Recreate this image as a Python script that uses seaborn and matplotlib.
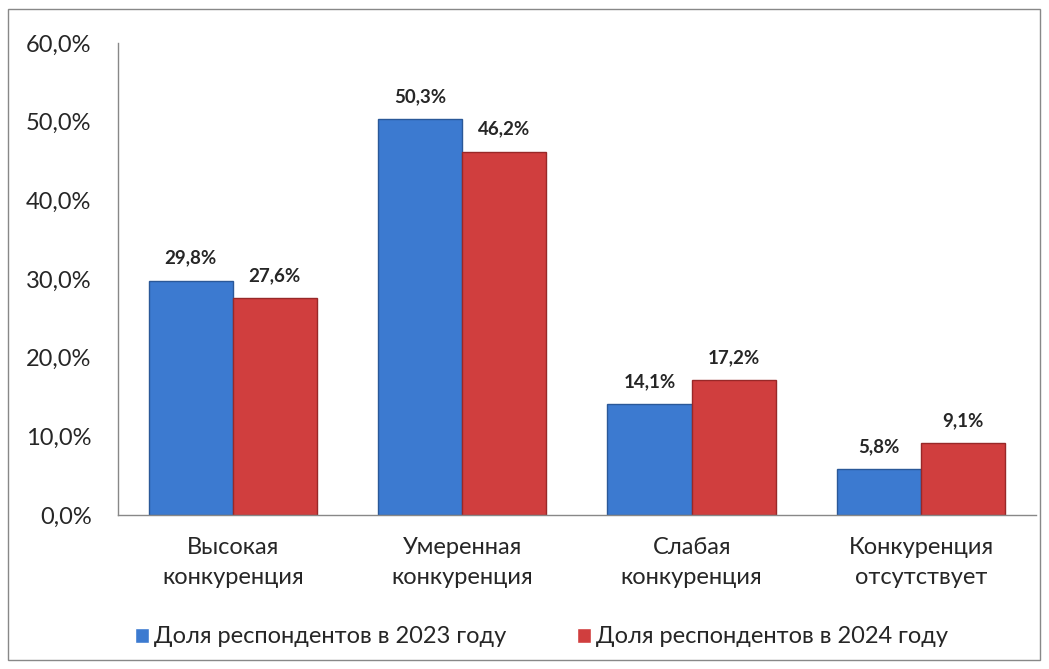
import pandas as pd
import seaborn as sns
import matplotlib.pyplot as plt
from matplotlib.patches import Rectangle

categories = ['Высокая\nконкуренция', 'Умеренная\nконкуренция', 'Слабая\nконкуренция', 'Конкуренция\nотсутствует']
series = ['Доля респондентов в 2023 году', 'Доля респондентов в 2024 году']
values_2023 = [29.8, 50.3, 14.1, 5.8]
values_2024 = [27.6, 46.2, 17.2, 9.1]
yticks = [0, 10, 20, 30, 40, 50, 60]

df = pd.DataFrame({
    'cat': categories * 2,
    'series': [series[0]] * 4 + [series[1]] * 4,
    'value': values_2023 + values_2024,
})

sns.set_style('white')
plt.rcParams['font.family'] = ['Lato', 'DejaVu Sans']

fig = plt.figure(figsize=(10.49, 6.69), dpi=100)
ax = fig.add_axes([0.1125, 0.2302, 0.875, 0.7055])

colors = ['#3C7AD0', '#D03E3E']
sns.barplot(data=df, x='cat', y='value', hue='series', palette=colors,
            width=0.734, saturation=1, ax=ax, legend=True)

# тёмная обводка столбиков и подписи значений
edges = ['#2A5898', '#982828']
for cont, ec in zip(ax.containers, edges):
    for bar in cont:
        bar.set_edgecolor(ec)
        bar.set_linewidth(1.0)
    ax.bar_label(cont, labels=[f'{v:.1f}%'.replace('.', ',') for v in cont.datavalues],
                 padding=10, fontsize=13.5, fontweight='bold')

ax.set_ylim(0, 60)
ax.set_xlim(-0.5, 3.5)
ax.set_yticks(yticks)
ax.set_yticklabels([f'{t:.1f}%'.replace('.', ',') for t in yticks], fontsize=17)
ax.tick_params(axis='x', labelsize=17, pad=16, length=0)
ax.tick_params(axis='y', pad=19, length=0)
ax.set_xlabel('')
ax.set_ylabel('')
for s in ['top', 'right']:
    ax.spines[s].set_visible(False)
for s in ['left', 'bottom']:
    ax.spines[s].set_color('#888888')
    ax.spines[s].set_linewidth(1.0)
for lbl in ax.get_xticklabels():
    lbl.set_linespacing(1.5)

handles, labels = ax.get_legend_handles_labels()
ax.legend(handles, labels, loc='center', bbox_to_anchor=(0.516, 0.048),
          bbox_transform=fig.transFigure, ncol=2, frameon=False, fontsize=17,
          handlelength=0.6, handleheight=0.6, handletextpad=0.2, columnspacing=3.0)

# рамка вокруг всей диаграммы
fig.patches.append(Rectangle((8 / 1049, 9 / 669), 1032 / 1049, 651 / 669,
                             transform=fig.transFigure, fill=False,
                             edgecolor='#888888', linewidth=1.0))

fig.savefig('out.png', dpi=100)
